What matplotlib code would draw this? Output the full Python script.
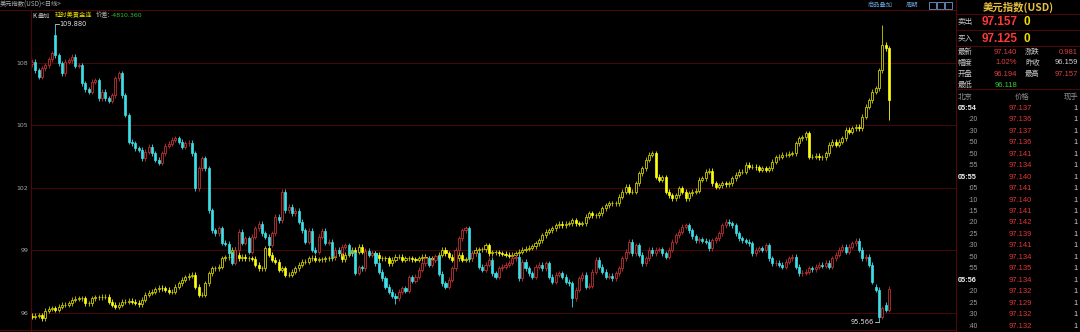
import numpy as np
import matplotlib.pyplot as plt
from matplotlib.patches import Rectangle

plt.rcParams['font.family'] = ['Noto Sans CJK SC', 'DejaVu Sans']

# 美元指数 daily closes (left to right)
dxy_close = [
    108.06, 107.66, 107.34, 107.74, 107.90, 108.18, 108.46, 108.38, 107.98, 107.50,
    108.06, 108.14, 108.30, 107.86, 107.90, 107.02, 106.73, 106.62, 107.10, 107.18,
    106.30, 106.62, 106.30, 106.19, 106.46, 107.26, 107.50, 106.46, 105.50, 104.22,
    104.14, 103.90, 103.82, 103.42, 103.74, 103.98, 103.66, 103.34, 103.21, 103.66,
    104.01, 104.11, 104.30, 104.38, 104.22, 103.98, 104.14, 104.17, 103.66, 101.97,
    102.94, 103.42, 102.94, 100.93, 99.97, 99.81, 100.05, 99.36, 99.30, 98.85,
    98.40, 99.01, 99.89, 99.36, 99.57, 98.93, 99.65, 100.05, 100.26, 99.81,
    99.65, 99.25, 99.81, 100.61, 100.45, 101.81, 100.93, 101.09, 100.77, 100.90,
    100.37, 99.97, 99.41, 99.94, 99.01, 98.93, 99.65, 99.94, 99.36, 99.41,
    98.72, 99.01, 98.85, 99.17, 99.25, 98.88, 98.85, 97.92, 98.18, 98.13,
    98.98, 98.77, 98.85, 98.37, 97.97, 97.65, 97.25, 97.01, 96.80, 96.69,
    97.01, 97.17, 97.05, 97.70, 97.54, 97.73, 98.05, 98.37, 98.61, 98.29,
    98.53, 98.72, 97.86, 97.41, 97.25, 97.57, 98.13, 99.01, 99.57, 99.97,
    100.05, 98.61, 98.85, 98.85, 98.21, 98.05, 98.29, 98.53, 97.89, 97.73,
    98.13, 98.21, 98.29, 98.40, 98.61, 98.69, 97.65, 98.45, 98.13, 97.89,
    97.73, 98.21, 98.29, 98.13, 98.37, 97.73, 97.49, 97.81, 97.89, 97.73,
    97.49, 97.41, 96.69, 97.09, 97.65, 97.81, 97.25, 97.28, 97.97, 98.53,
    98.21, 97.97, 97.73, 97.76, 97.65, 97.89, 98.13, 98.61, 98.93, 99.41,
    98.85, 99.25, 98.77, 98.37, 98.61, 99.01, 98.85, 99.01, 99.04, 98.85,
    98.69, 99.01, 99.41, 99.73, 99.89, 100.13, 100.21, 99.97, 99.68, 99.49,
    99.52, 99.46, 99.41, 99.09, 99.49, 99.57, 99.81, 100.21, 100.37, 100.29,
    100.21, 99.81, 99.57, 99.49, 99.41, 99.33, 98.85, 99.01, 99.09, 99.01,
    99.25, 98.61, 98.37, 98.40, 98.29, 98.21, 98.45, 98.61, 98.69, 98.21,
    97.89, 97.92, 97.97, 98.13, 98.08, 98.21, 98.29, 98.26, 98.40, 98.21,
    98.61, 98.77, 99.01, 99.17, 98.93, 99.17, 99.33, 99.46, 99.01, 98.61,
    98.69, 98.29, 97.49, 97.09, 95.80, 96.21, 96.13, 97.14,
]
dxy_first_open = 107.95
dxy_gap_opens = {7: 109.35, 253: 97.25, 256: 96.37}
dxy_highs = {7: 109.88}
dxy_lows = {254: 95.566, 109: 96.41, 162: 96.25}

# 延时美黄金连 overlay, already on the left scale
gold_close = [
    95.80, 95.84, 95.88, 95.72, 96.09, 96.19, 96.21, 96.13, 96.29, 96.37,
    96.37, 96.45, 96.61, 96.67, 96.69, 96.69, 96.45, 96.45, 96.69, 96.73,
    96.73, 96.77, 96.77, 96.53, 96.37, 96.29, 96.37, 96.53, 96.53, 96.56,
    96.53, 96.48, 96.41, 96.61, 96.85, 96.96, 97.01, 97.12, 97.20, 97.17,
    97.09, 97.01, 97.01, 97.25, 97.41, 97.57, 97.70, 97.76, 97.81, 97.25,
    96.85, 96.85, 97.41, 97.89, 98.13, 98.13, 98.21, 98.61, 98.66, 98.69,
    99.01, 98.77, 98.61, 98.69, 98.61, 98.61, 98.58, 98.29, 98.13, 98.13,
    99.09, 98.77, 98.53, 98.45, 98.05, 98.13, 97.81, 97.81, 97.97, 98.13,
    98.29, 98.45, 98.45, 98.61, 98.64, 98.53, 98.56, 98.56, 98.61, 98.61,
    98.66, 98.85, 98.85, 98.56, 98.77, 98.85, 99.01, 98.93, 99.17, 98.93,
    98.88, 98.85, 98.85, 98.77, 98.61, 98.61, 98.61, 98.37, 98.53, 98.69,
    98.69, 98.53, 98.61, 98.61, 98.56, 98.53, 98.61, 98.69, 98.61, 98.61,
    98.56, 98.61, 98.77, 99.01, 98.85, 98.69, 98.53, 98.61, 98.77, 98.53,
    98.56, 98.61, 98.85, 99.01, 99.04, 99.04, 99.25, 98.85, 98.90, 98.90,
    98.85, 98.82, 98.77, 98.74, 98.77, 98.85, 98.93, 99.01, 99.06, 99.12,
    99.20, 99.33, 99.49, 99.73, 99.89, 99.97, 100.05, 100.21, 100.26, 100.21,
    100.26, 100.29, 100.45, 100.29, 100.26, 100.29, 100.61, 100.77, 100.69, 100.69,
    100.77, 101.01, 101.17, 101.25, 101.25, 101.25, 101.57, 101.81, 102.05, 101.81,
    101.81, 102.21, 102.70, 102.94, 103.34, 103.58, 103.66, 102.54, 102.38, 102.50,
    101.81, 101.65, 101.49, 101.65, 101.97, 101.81, 101.49, 101.73, 101.81, 101.85,
    102.38, 102.46, 102.78, 102.82, 102.21, 102.05, 102.13, 102.21, 102.18, 102.21,
    102.46, 102.62, 102.78, 102.78, 103.10, 103.02, 103.02, 102.98, 102.86, 102.94,
    102.86, 102.94, 103.26, 103.46, 103.50, 103.58, 103.58, 103.63, 103.66, 104.14,
    104.38, 104.43, 104.62, 103.50, 103.50, 103.53, 103.46, 103.46, 103.66, 104.06,
    104.22, 104.06, 104.22, 104.38, 104.78, 104.70, 104.86, 104.94, 104.86, 105.42,
    105.90, 106.22, 106.62, 106.78, 107.66, 108.87, 108.71, 106.22,
]
gold_first_open = 95.85
gold_highs = {255: 109.83}
gold_lows = {257: 105.26}

y_ticks = [96, 99, 102, 105, 108]

# right quote panel
quote_title = "美元指数(USD)"
sell_price, buy_price = "97.157", "97.125"
stats_left = [("最新", "97.140", "#e04040"), ("幅度", "1.02%", "#e04040"),
              ("开盘", "96.194", "#e04040"), ("最低", "96.118", "#30d030")]
stats_right = [("涨跌", "0.981", "#e04040"), ("昨收", "96.159", "#d0d0d0"),
               ("最高", "97.157", "#e04040")]
tick_times = ["05:54", ":20", ":30", ":50", ":50", ":55", "05:55", ":05", ":10", ":15",
              ":20", ":25", ":30", ":50", ":55", "05:56", ":20", ":25", ":30", ":40"]
tick_prices = ["97.137", "97.136", "97.137", "97.136", "97.141", "97.134", "97.140",
               "97.141", "97.140", "97.141", "97.142", "97.139", "97.141", "97.134",
               "97.135", "97.134", "97.132", "97.129", "97.132", "97.132"]

W, H = 1080, 332
BG = "black"
LINE = "#4a0808"
WICK = 0.12


def ohlc(close, first_open, gaps, highs, lows):
    c = np.array(close)
    o = np.r_[first_open, c[:-1]]
    for k, v in gaps.items():
        o[k] = v
    h = np.maximum(o, c) + WICK
    l = np.minimum(o, c) - WICK
    for k, v in highs.items():
        h[k] = v
    for k, v in lows.items():
        l[k] = v
    return o, h, l, c


def candles(ax, o, h, l, c, up_col, dn_col, z):
    x = np.arange(len(c))
    up = c >= o
    ax.vlines(x[up], l[up], h[up], colors=up_col, lw=0.6, zorder=z)
    ax.vlines(x[~up], l[~up], h[~up], colors=dn_col, lw=0.6, zorder=z)
    ax.bar(x[up], c[up] - o[up], bottom=o[up], width=0.62, facecolor=BG,
           edgecolor=up_col, lw=0.6, zorder=z + 0.1)
    ax.bar(x[~up], c[~up] - o[~up], bottom=o[~up], width=0.62, color=dn_col,
           edgecolor=dn_col, lw=0.5, zorder=z + 0.1)


def ftext(x, y, s, **kw):
    fig.text(x / W, 1 - y / H, s, va="center", **kw)


def fline(x0, y0, x1, y1, col=LINE, lw=0.8):
    fig.add_artist(plt.Line2D([x0 / W, x1 / W], [1 - y0 / H, 1 - y1 / H],
                              color=col, lw=lw))


fig = plt.figure(figsize=(W / 100, H / 100), dpi=100, facecolor=BG)

# chart area: x 31..956 px, y 10..330 px
ax = fig.add_axes([31 / W, 2 / H, (956 - 31) / W, 320 / H], facecolor=BG)
px = 3.335
ax.set_xlim(-1 / px, 257 + (956 - 889) / px)
ax.set_ylim(108 - 267 / 20.8, 108 + 53 / 20.8)
for s in ax.spines.values():
    s.set_visible(False)
ax.set_xticks([])
ax.set_yticks(y_ticks)
ax.set_yticklabels([str(t) for t in y_ticks], fontsize=4.5, color="#a8a8a8",
                   family="DejaVu Sans")
ax.tick_params(axis="y", length=0, pad=2)
for t in y_ticks:
    ax.axhline(t, color=LINE, lw=0.7, zorder=0)

go, gh, gl, gc = ohlc(gold_close, gold_first_open, {}, gold_highs, gold_lows)
candles(ax, go, gh, gl, gc, "#cccc00", "#ffff10", 2)
do, dh, dl, dc = ohlc(dxy_close, dxy_first_open, dxy_gap_opens, dxy_highs, dxy_lows)
candles(ax, do, dh, dl, dc, "#c03030", "#3ee0e8", 3)

# max / min labels
ax.plot([7, 8.0], [109.88, 109.88], color="#d0d0d0", lw=0.6)
ax.text(8.2, 109.88, "109.880", fontsize=4.8, color="#e0e0e0", va="center",
        family="DejaVu Sans")
ax.plot([252.7, 254], [95.566, 95.566], color="#d0d0d0", lw=0.6)
ax.text(252.5, 95.566, "95.566", fontsize=4.8, color="#e0e0e0", va="center",
        ha="right", family="DejaVu Sans")

# frame lines
fline(0, 10, 956, 10)
fline(31, 10, 31, 332)
fline(0, 330, 956, 330)
fline(956, 0, 956, 332)

# header texts
ftext(0, 5, "美元指数(USD)<日线>", fontsize=4.5, color="#b0b0b0")
ftext(32, 15.5, "K", fontsize=4.5, color="#e0e0e0")
ftext(38, 15.5, "叠加", fontsize=4.5, color="#b0b0b0")
ftext(55, 15.5, "延时美黄金连", fontsize=4.5, color="#e8e000")
ftext(96, 15.5, "价差:", fontsize=4.5, color="#b0b0b0")
ftext(111, 15.5, "-4810.360", fontsize=4.5, color="#30c030", family="DejaVu Sans")
ftext(868, 5, "商品叠加", fontsize=4.5, color="#6a98d0")
ftext(906, 5, "周期", fontsize=4.5, color="#6a98d0")
for bx in [929, 937, 945]:
    fig.add_artist(Rectangle((bx / W, 1 - 9 / H), 7 / W, 7 / H, fill=False,
                             edgecolor="#6a98d0", lw=0.6))

# right quote panel
ftext(1018, 7, quote_title, fontsize=7.5, color="#e8c040", ha="center",
      weight="bold")
for yy in [14, 30, 46, 89]:
    fline(956, yy, 1080, yy)
ftext(958, 22, "卖出", fontsize=5.5, color="#c8c8c8")
ftext(982, 22, sell_price, fontsize=8.5, color="#ff3838", weight="bold",
      family="Liberation Sans")
ftext(1024, 22, "0", fontsize=8.5, color="#f0e000", weight="bold",
      family="Liberation Sans")
ftext(958, 38.5, "买入", fontsize=5.5, color="#c8c8c8")
ftext(982, 38.5, buy_price, fontsize=8.5, color="#ff3838", weight="bold",
      family="Liberation Sans")
ftext(1024, 38.5, "0", fontsize=8.5, color="#f0e000", weight="bold",
      family="Liberation Sans")
for k, (lab, val, col) in enumerate(stats_left):
    yy = 52 + k * 11
    ftext(958, yy, lab, fontsize=5.3, color="#c8c8c8")
    ftext(1017, yy, val, fontsize=5.5, color=col, ha="right",
          family="Liberation Sans")
for k, (lab, val, col) in enumerate(stats_right):
    yy = 52 + k * 11
    ftext(1025, yy, lab, fontsize=5.3, color="#c8c8c8")
    ftext(1078, yy, val, fontsize=5.5, color=col, ha="right",
          family="Liberation Sans")

ftext(958, 97, "北京", fontsize=5.3, color="#909090")
ftext(1022, 97, "价格", fontsize=5.3, color="#909090", ha="center")
ftext(1078, 97, "现手", fontsize=5.3, color="#909090", ha="right")
for k, (tm, pr) in enumerate(zip(tick_times, tick_prices)):
    yy = 108.5 + k * 11.45
    if len(tm) > 3:
        ftext(958, yy, tm, fontsize=5.3, color="#f0f0f0", weight="bold",
              family="Liberation Sans")
    else:
        ftext(978, yy, tm, fontsize=4.8, color="#a0a0a0", ha="right",
              family="Liberation Sans")
    ftext(1032, yy, pr, fontsize=5.5, color="#e03838", ha="right",
          family="Liberation Sans")
    ftext(1078, yy, "1", fontsize=5.3, color="#d0d0d0", ha="right",
          family="Liberation Sans")

fig.savefig("out.png", dpi=100, facecolor=BG)
